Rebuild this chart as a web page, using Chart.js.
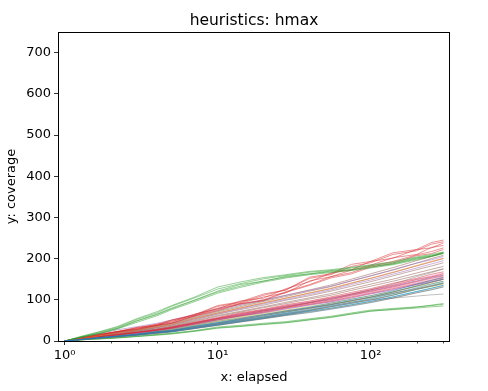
<!DOCTYPE html>
<html>
<head>
<meta charset="utf-8">
<script src="https://cdn.jsdelivr.net/npm/chart.js@4.4.1/dist/chart.umd.min.js"></script>
<style>
  body { margin: 0; background: #fff; }
</style>
</head>
<body>
<canvas id="myChart" width="488" height="391"></canvas>
<script>
// elapsed time samples shared by every run
const elapsed = [1, 1.3, 1.7, 2.2, 3, 4, 5, 7, 10, 14, 20, 28, 40, 55, 75, 100, 140, 200, 250, 300];

const yTicks = [0, 100, 200, 300, 400, 500, 600, 700];
const xTicks = [1, 10, 100];
const xMinor = [2, 3, 4, 5, 6, 7, 8, 9, 20, 30, 40, 50, 60, 70, 80, 90, 200, 300];
const xLabels = { 1: '10⁰', 10: '10¹', 100: '10²' };

// coverage per run, grouped by line colour
const blueRuns = [
    [0, 4, 9, 12, 17, 23, 26, 36, 45, 54, 64, 73, 82, 92, 101, 110, 122, 138, 147, 155],
    [0, 4, 8, 12, 17, 22, 25, 35, 44, 52, 62, 70, 80, 88, 98, 106, 119, 133, 143, 150],
    [0, 4, 8, 11, 16, 21, 25, 33, 42, 51, 59, 68, 77, 86, 94, 103, 115, 129, 138, 145],
    [0, 4, 8, 11, 15, 20, 24, 32, 41, 49, 57, 66, 74, 83, 91, 99, 111, 125, 133, 140],
    [0, 4, 7, 11, 15, 20, 23, 31, 39, 47, 55, 64, 72, 80, 88, 96, 107, 120, 128, 135],
    [0, 3, 7, 10, 14, 19, 22, 30, 38, 46, 54, 62, 69, 77, 85, 93, 104, 117, 124, 131]
];
const orangeRuns = [
    [0, 6, 13, 19, 26, 34, 40, 54, 68, 80, 93, 104, 117, 128, 141, 152, 167, 183, 193, 201],
    [0, 4, 8, 12, 16, 22, 26, 34, 43, 53, 61, 71, 79, 89, 97, 107, 118, 134, 142, 150],
    [0, 4, 8, 11, 15, 20, 24, 33, 41, 49, 58, 66, 75, 83, 92, 100, 111, 126, 134, 141],
    [0, 3, 7, 10, 15, 19, 23, 30, 38, 46, 54, 62, 70, 78, 86, 94, 104, 117, 125, 132]
];
const greenRuns = [
    [0, 10, 20, 31, 50, 65, 80, 99, 121, 137, 145, 157, 163, 170, 173, 181, 187, 201, 206, 215],
    [0, 11, 22, 33, 53, 68, 84, 104, 126, 139, 151, 159, 167, 171, 177, 183, 190, 202, 208, 214],
    [0, 9, 18, 29, 46, 61, 76, 95, 116, 130, 143, 153, 161, 166, 171, 177, 185, 197, 205, 212],
    [0, 10, 19, 30, 49, 64, 78, 98, 119, 133, 146, 155, 163, 168, 173, 179, 187, 199, 206, 213],
    [0, 12, 23, 35, 55, 71, 86, 106, 131, 143, 154, 161, 169, 173, 179, 185, 192, 204, 210, 216],
    [0, 3, 5, 8, 11, 15, 18, 24, 32, 36, 41, 45, 52, 58, 66, 73, 76, 80, 83, 85],
    [0, 3, 6, 8, 12, 16, 19, 25, 34, 38, 43, 47, 54, 60, 68, 75, 79, 83, 86, 89],
    [0, 3, 5, 7, 11, 14, 17, 23, 31, 35, 40, 44, 51, 57, 65, 72, 77, 82, 87, 91]
];
const redRuns = [
    [0, 9, 17, 23, 33, 40, 51, 63, 86, 95, 114, 124, 155, 163, 186, 193, 214, 222, 239, 245],
    [0, 8, 15, 23, 30, 41, 46, 65, 78, 97, 104, 127, 144, 165, 173, 193, 201, 222, 226, 238],
    [0, 8, 16, 22, 31, 37, 48, 60, 80, 91, 107, 117, 146, 156, 172, 184, 202, 210, 227, 232],
    [0, 7, 15, 22, 29, 38, 44, 61, 76, 90, 100, 120, 137, 156, 166, 182, 193, 209, 217, 226],
    [0, 9, 16, 22, 33, 38, 50, 62, 84, 93, 111, 124, 152, 161, 181, 190, 210, 219, 235, 241],
    [0, 8, 13, 22, 28, 38, 43, 60, 74, 90, 98, 118, 135, 153, 163, 179, 189, 207, 212, 222],
    [0, 5, 11, 16, 22, 28, 34, 45, 57, 68, 77, 88, 97, 107, 118, 127, 140, 152, 162, 168],
    [0, 5, 11, 15, 21, 27, 33, 44, 55, 66, 75, 85, 94, 104, 114, 124, 135, 149, 156, 163],
    [0, 5, 10, 15, 21, 26, 32, 43, 54, 63, 73, 82, 92, 100, 111, 120, 131, 144, 152, 158],
    [0, 5, 10, 14, 20, 26, 31, 41, 52, 61, 70, 80, 89, 97, 107, 116, 127, 139, 147, 153]
];
const purpleRuns = [
    [0, 9, 18, 27, 35, 43, 51, 64, 78, 88, 100, 111, 123, 133, 146, 158, 172, 189, 197, 205],
    [0, 6, 13, 19, 25, 33, 39, 53, 66, 78, 90, 101, 113, 124, 137, 148, 162, 177, 187, 195],
    [0, 5, 10, 15, 21, 27, 32, 43, 54, 64, 74, 83, 93, 102, 112, 122, 133, 146, 154, 160],
    [0, 5, 10, 14, 20, 25, 30, 41, 51, 60, 69, 78, 87, 95, 105, 114, 125, 137, 144, 150]
];
const brownRuns = [
    [0, 7, 14, 20, 28, 36, 43, 58, 73, 86, 98, 111, 124, 136, 150, 163, 178, 195, 205, 214],
    [0, 7, 13, 20, 27, 35, 42, 56, 71, 83, 96, 108, 121, 132, 146, 158, 173, 189, 200, 208],
    [0, 6, 13, 19, 26, 33, 40, 54, 68, 80, 92, 104, 116, 127, 140, 152, 166, 182, 192, 200],
    [0, 6, 12, 18, 25, 32, 38, 51, 65, 76, 87, 99, 110, 121, 133, 144, 158, 173, 182, 190],
    [0, 6, 12, 17, 24, 30, 36, 49, 62, 72, 83, 94, 105, 115, 127, 138, 150, 165, 174, 181],
    [0, 6, 11, 17, 23, 29, 35, 47, 60, 70, 81, 91, 102, 111, 123, 133, 145, 159, 168, 175]
];
const pinkRuns = [
    [0, 5, 11, 16, 21, 28, 33, 45, 56, 66, 76, 86, 96, 105, 115, 125, 137, 150, 158, 165],
    [0, 5, 11, 15, 20, 27, 33, 43, 55, 64, 73, 84, 93, 101, 113, 121, 133, 145, 155, 160],
    [0, 5, 10, 15, 20, 26, 31, 42, 53, 62, 71, 81, 90, 98, 109, 118, 129, 141, 149, 155],
    [0, 5, 10, 14, 19, 25, 31, 40, 51, 61, 68, 78, 88, 95, 104, 115, 124, 137, 143, 150]
];
const grayRuns = [
    [0, 4, 7, 10, 14, 18, 22, 30, 40, 48, 56, 64, 74, 84, 94, 100, 104, 109, 112, 114],
    [0, 5, 10, 14, 19, 25, 30, 40, 51, 61, 72, 82, 93, 103, 114, 124, 138, 156, 166, 175],
    [0, 4, 9, 13, 18, 23, 28, 38, 48, 56, 64, 73, 81, 89, 98, 106, 116, 127, 134, 140]
];
const oliveRuns = [
    [0, 5, 9, 14, 19, 24, 29, 39, 49, 58, 67, 75, 84, 92, 102, 110, 120, 132, 139, 145],
    [0, 4, 9, 13, 18, 23, 28, 37, 47, 55, 64, 72, 80, 88, 97, 105, 115, 126, 132, 138]
];
const cyanRuns = [
    [0, 4, 8, 12, 17, 22, 26, 35, 44, 53, 61, 71, 80, 89, 98, 107, 119, 134, 143, 150],
    [0, 4, 8, 11, 16, 21, 24, 33, 41, 50, 58, 67, 75, 84, 92, 101, 112, 126, 135, 142],
    [0, 4, 7, 11, 15, 19, 23, 31, 39, 47, 56, 63, 72, 79, 88, 96, 107, 120, 128, 135]
];

const groups = [
    ['rgba(31, 119, 180, 0.7)', blueRuns],
    ['rgba(255, 127, 14, 0.7)', orangeRuns],
    ['rgba(44, 160, 44, 0.7)', greenRuns],
    ['rgba(214, 39, 40, 0.7)', redRuns],
    ['rgba(148, 103, 189, 0.7)', purpleRuns],
    ['rgba(140, 86, 75, 0.7)', brownRuns],
    ['rgba(227, 119, 194, 0.7)', pinkRuns],
    ['rgba(127, 127, 127, 0.7)', grayRuns],
    ['rgba(188, 189, 34, 0.7)', oliveRuns],
    ['rgba(23, 190, 207, 0.7)', cyanRuns]
];

let datasets = [];
for (let [color, runs] of groups) {
    for (let run of runs) {
        datasets.push({
            data: run.map((v, i) => ({ x: elapsed[i], y: v })),
            borderColor: color,
            borderWidth: 0.7,
            pointRadius: 0,
            fill: false
        });
    }
}

const font = { family: 'DejaVu Sans', size: 13 };

// box round the plot, minor log ticks and the title
const frame = {
    id: 'frame',
    afterDraw(chart) {
        const { ctx, chartArea: a, scales } = chart;
        ctx.save();
        ctx.strokeStyle = '#000';
        ctx.lineWidth = 1;
        ctx.strokeRect(a.left + 0.5, a.top + 0.5, a.right - a.left - 1, a.bottom - a.top);
        ctx.lineWidth = 0.7;
        for (let v of xMinor) {
            const px = Math.round(scales.x.getPixelForValue(v)) + 0.5;
            ctx.beginPath();
            ctx.moveTo(px, a.bottom);
            ctx.lineTo(px, a.bottom + 2.5);
            ctx.stroke();
        }
        ctx.fillStyle = '#000';
        ctx.font = '15.5px "DejaVu Sans"';
        ctx.textAlign = 'center';
        ctx.textBaseline = 'alphabetic';
        ctx.fillText('heuristics: hmax', (a.left + a.right) / 2, 25);
        ctx.restore();
    }
};

var ctx = document.getElementById('myChart').getContext('2d');
new Chart(ctx, {
    type: 'line',
    data: { datasets: datasets },
    plugins: [frame],
    options: {
        responsive: false,
        animation: false,
        devicePixelRatio: 1,
        layout: { padding: { top: 32, right: 38, left: 0, bottom: 0 } },
        plugins: {
            legend: { display: false },
            tooltip: { enabled: false }
        },
        scales: {
            x: {
                type: 'logarithmic',
                min: 0.904,
                max: 331,
                afterBuildTicks: s => { s.ticks = xTicks.map(v => ({ value: v })); },
                afterFit: s => { s.height = 50; },
                border: { display: false },
                grid: { drawOnChartArea: false, tickLength: 4, color: '#000', lineWidth: 0.8 },
                ticks: { color: '#000', font: font, padding: 3, maxRotation: 0, autoSkip: false, callback: v => xLabels[v] },
                title: { display: true, text: 'x: elapsed', color: '#000', font: font, padding: 6 }
            },
            y: {
                min: 0,
                max: 750,
                afterBuildTicks: s => { s.ticks = yTicks.map(v => ({ value: v })); },
                afterFit: s => { s.width = 58; },
                border: { display: false },
                grid: { drawOnChartArea: false, tickLength: 4, color: '#000', lineWidth: 0.8 },
                ticks: { color: '#000', font: font, padding: 3 },
                title: { display: true, text: 'y: coverage', color: '#000', font: font, padding: 4 }
            }
        }
    }
});
</script>
</body>
</html>
